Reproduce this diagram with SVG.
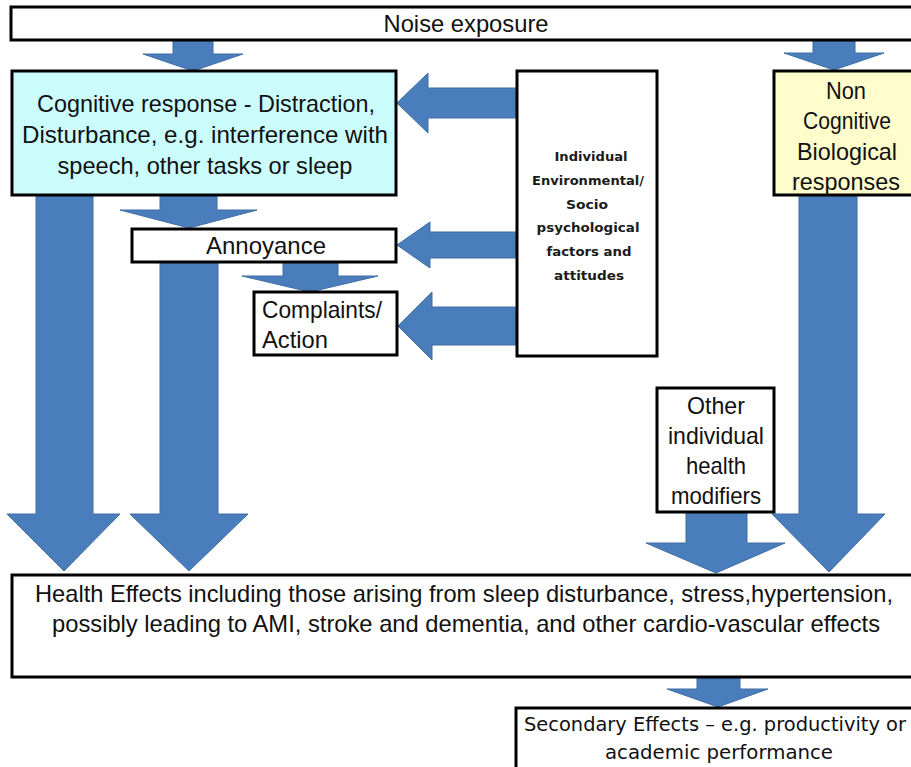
<svg xmlns="http://www.w3.org/2000/svg" width="911" height="767" viewBox="0 0 911 767">
<style>
.box{fill:#fff;stroke:#000;stroke-width:3}
.cog{fill:#ccfdfd}
.bio{fill:#fffdcc}
.arr{fill:#4a7dbb;stroke:#3f6ea6;stroke-width:1}
.t{font-family:"Liberation Sans",Arial,sans-serif;font-size:24px;fill:#111;text-anchor:middle}
.tl{text-anchor:start}
.s{font-family:"DejaVu Sans","Liberation Sans",sans-serif;font-size:13px;font-weight:bold;fill:#1a1a1a;text-anchor:middle}
.g{font-family:"DejaVu Sans","Liberation Sans",sans-serif;font-size:19px;fill:#111}
</style>
<rect width="911" height="767" fill="#fff"/>
<g id="connectors">
<path class="arr" d="M173,41 H213 V54 H243 L193,71 L143,54 H173 Z"/>
<path class="arr" d="M813,41 H855 V53 H884 L834,70 L784,53 H813 Z"/>
<path class="arr" d="M517,88 V118 H428 V133 L397,103 L428,73 V88 Z"/>
<path class="arr" d="M517,232 V258 H430 V268 L397,245 L430,222 V232 Z"/>
<path class="arr" d="M517,307 V345 H432 V360 L398,326 L432,292 V307 Z"/>
<path class="arr" d="M160,195 H217 V210 H257 L189,228 L120,210 H160 Z"/>
<path class="arr" d="M283,262 H338 V276 H378 L310,292 L242,276 H283 Z"/>
<path class="arr" d="M36,195 H93 V514 H120 L64,571 L7,514 H36 Z"/>
<path class="arr" d="M160,262 H218 V514 H248 L189,571 L130,514 H160 Z"/>
<path class="arr" d="M799,195 H857 V514 H885 L829,572 L772,514 H799 Z"/>
<path class="arr" d="M686,512 H747 V543 H785 L716,573 L646,543 H686 Z"/>
<path class="arr" d="M697,677 H740 V689 H768 L718,707 L667,689 H697 Z"/>
</g>
<g id="noise">
<rect class="box" x="11" y="7" width="912" height="33"/>
<text class="t" x="466" y="32" textLength="165" lengthAdjust="spacingAndGlyphs">Noise exposure</text>
</g>
<g id="cognitive">
<rect class="box cog" x="12" y="71" width="384" height="124"/>
<text class="t" x="206" y="112" textLength="338" lengthAdjust="spacingAndGlyphs">Cognitive response - Distraction,</text>
<text class="t" x="205" y="143" textLength="366" lengthAdjust="spacingAndGlyphs">Disturbance, e.g. interference with</text>
<text class="t" x="205" y="174" textLength="295" lengthAdjust="spacingAndGlyphs">speech, other tasks or sleep</text>
</g>
<g id="noncognitive">
<rect class="box bio" x="774" y="71" width="150" height="124"/>
<text class="t" x="846" y="99" textLength="40" lengthAdjust="spacingAndGlyphs">Non</text>
<text class="t" x="847" y="129" textLength="88" lengthAdjust="spacingAndGlyphs">Cognitive</text>
<text class="t" x="847" y="160" textLength="100" lengthAdjust="spacingAndGlyphs">Biological</text>
<text class="t" x="846" y="190" textLength="108" lengthAdjust="spacingAndGlyphs">responses</text>
</g>
<g id="individual">
<rect class="box" x="517" y="71" width="140" height="285"/>
<text class="s" x="591" y="161" textLength="73" lengthAdjust="spacingAndGlyphs">Individual</text>
<text class="s" x="588" y="185" textLength="112" lengthAdjust="spacingAndGlyphs">Environmental/</text>
<text class="s" x="587" y="209" textLength="42" lengthAdjust="spacingAndGlyphs">Socio</text>
<text class="s" x="588" y="232" textLength="103" lengthAdjust="spacingAndGlyphs">psychological</text>
<text class="s" x="589" y="256" textLength="85" lengthAdjust="spacingAndGlyphs">factors and</text>
<text class="s" x="589" y="280" textLength="70" lengthAdjust="spacingAndGlyphs">attitudes</text>
</g>
<g id="annoyance">
<rect class="box" x="132" y="229" width="264" height="33"/>
<text class="t" x="266" y="254" textLength="120" lengthAdjust="spacingAndGlyphs">Annoyance</text>
</g>
<g id="complaints">
<rect class="box" x="254" y="292" width="143" height="63"/>
<text class="t tl" x="262" y="318" textLength="120" lengthAdjust="spacingAndGlyphs">Complaints/</text>
<text class="t tl" x="262" y="348" textLength="66" lengthAdjust="spacingAndGlyphs">Action</text>
</g>
<g id="modifiers">
<rect class="box" x="657" y="388" width="117" height="124"/>
<text class="t" x="716" y="414" textLength="58" lengthAdjust="spacingAndGlyphs">Other</text>
<text class="t" x="716" y="444" textLength="96" lengthAdjust="spacingAndGlyphs">individual</text>
<text class="t" x="716" y="474" textLength="60" lengthAdjust="spacingAndGlyphs">health</text>
<text class="t" x="716" y="504" textLength="90" lengthAdjust="spacingAndGlyphs">modifiers</text>
</g>
<g id="health">
<rect class="box" x="12" y="575" width="912" height="102"/>
<text class="t" x="464" y="602" textLength="858" lengthAdjust="spacingAndGlyphs">Health Effects including those arising from sleep disturbance, stress,hypertension,</text>
<text class="t" x="466" y="632" textLength="828" lengthAdjust="spacingAndGlyphs">possibly leading to AMI, stroke and dementia, and other cardio-vascular effects</text>
</g>
<g id="secondary">
<rect class="box" x="516" y="708" width="400" height="64"/>
<text class="g" x="715" y="731" text-anchor="middle" font-size="17" textLength="382" lengthAdjust="spacingAndGlyphs">Secondary Effects – e.g. productivity or</text>
<text class="g" x="719" y="759" text-anchor="middle" textLength="228" lengthAdjust="spacingAndGlyphs">academic performance</text>
</g>
</svg>
